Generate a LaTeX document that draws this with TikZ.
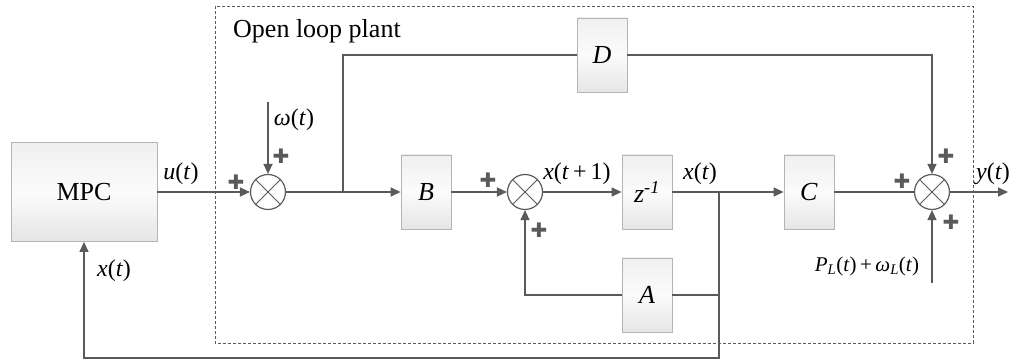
\documentclass[tikz,border=0pt]{standalone}
\usepackage{fontspec}
\setmainfont{Liberation Serif}
\newfontfamily\plusfont{DejaVu Sans}
\usepackage{tikz}
\usetikzlibrary{arrows.meta, positioning, calc}
\usepackage{xcolor}
\definecolor{linegray}{HTML}{5A5A5A}
\definecolor{boxedge}{HTML}{B4B4B4}
\newcommand{\vi}[1]{\textit{#1}}
\tikzset{
  block/.style={rectangle, draw=boxedge, thick, top color=gray!12, bottom color=gray!20,
                middle color=gray!3, minimum width=50pt, minimum height=74pt,
                inner sep=0pt, font=\fontsize{26}{30}\selectfont},
  summer/.style={circle, draw=linegray, line width=1.2pt, fill=white,
                 minimum size=35pt, inner sep=0pt,
                 path picture={\draw[linegray, line width=1pt]
                   (path picture bounding box.north west) -- (path picture bounding box.south east)
                   (path picture bounding box.north east) -- (path picture bounding box.south west);}},
  sig/.style={line width=1.3pt, draw=linegray},
  sigarrow/.style={sig, -{Triangle[length=10pt, width=9pt]}},
  lbl/.style={font=\fontsize{24}{28}\selectfont, inner sep=0pt},
  plus/.style={font=\plusfont\fontsize{20}{20}\selectfont, text=linegray, inner sep=0pt},
}

\begin{document}
\begin{tikzpicture}[x=1pt, y=-1pt]
    \useasboundingbox (0,0) rectangle (1009,363);
    %% plant frame
    \draw[linegray, thin, dashed, dash pattern=on 3pt off 2pt] (215,6) rectangle (973,343);
    \node[font=\fontsize{26}{30}\selectfont, anchor=west, inner sep=0pt] (title) at (233,31) {Open loop plant};
    %% controller
    \node[block, minimum width=146pt, minimum height=99pt] (mpc) at (84,192) {MPC};
    %% summing junctions
    \node[summer] (sum1) at (268,192) {};
    \node[summer] (sum2) at (525,192) {};
    \node[summer] (sum3) at (932,192) {};
    %% plant blocks
    \node[block] (B)    at (426,192) {\vi{B}};
    \node[block] (zinv) at (647,192) {\vi{z}\textsuperscript{\vi{-1}}};
    \node[block] (A)    at (647,295) {\vi{A}};
    \node[block] (C)    at (809,192) {\vi{C}};
    \node[block] (D)    at (602,55)  {\vi{D}};
    %% branch points and free ends
    \coordinate (wtop) at (268,102);
    \coordinate (br1)  at (343,192);
    \coordinate (br2)  at (719,192);
    \coordinate (fb)   at (719,358);
    \coordinate (aend) at (719,295);
    \coordinate (ltop) at (932,283);
    \coordinate (yout) at (1008,192);
    %% signal lines
    \draw[sigarrow] (mpc.east) -- (sum1.west);
    \draw[sigarrow] (wtop) -- (sum1.north);
    \draw[sigarrow] (sum1.east) -- (B.west);
    \draw[sig] (br1) |- (D.west);
    \draw[sigarrow] (D.east) -| (sum3.north);
    \draw[sigarrow] (B.east) -- (sum2.west);
    \draw[sigarrow] (sum2.east) -- (zinv.west);
    \draw[sigarrow] (zinv.east) -- (C.west);
    \draw[sig] (C.east) -- (sum3.west);
    \draw[sigarrow] (br2) -- (fb) -| (mpc.south);
    \draw[sig] (A.east) -- (aend);
    \draw[sigarrow] (A.west) -| (sum2.south);
    \draw[sigarrow] (ltop) -- (sum3.south);
    \draw[sigarrow] (sum3.east) -- (yout);
    %% signal labels
    \node[lbl] (ulbl)  at (181,174) {\vi{u}(\vi{t})};
    \node[lbl] (wlbl)  at (294,120) {\vi{ω}(\vi{t})};
    \node[lbl] (x1lbl) at (577,174) {\vi{x}(\vi{t}\,+\,1)};
    \node[lbl] (xlbl)  at (700,174) {\vi{x}(\vi{t})};
    \node[lbl] (xfb)   at (114,271) {\vi{x}(\vi{t})};
    \node[lbl] (ylbl)  at (993,174) {\vi{y}(\vi{t})};
    \node[lbl, font=\fontsize{21}{24}\selectfont] (plbl) at (867,266)
      {\vi{P}\textsubscript{\vi{L}}(\vi{t})\,+\,\vi{ω}\textsubscript{\vi{L}}(\vi{t})};
    %% signs
    \node[plus] (p1a) at (236,182) {✚};
    \node[plus] (p1b) at (281,156) {✚};
    \node[plus] (p2a) at (488,180) {✚};
    \node[plus] (p2b) at (539,230) {✚};
    \node[plus] (p3a) at (902,181) {✚};
    \node[plus] (p3b) at (946,156) {✚};
    \node[plus] (p3c) at (951,222) {✚};
\end{tikzpicture}
\end{document}
